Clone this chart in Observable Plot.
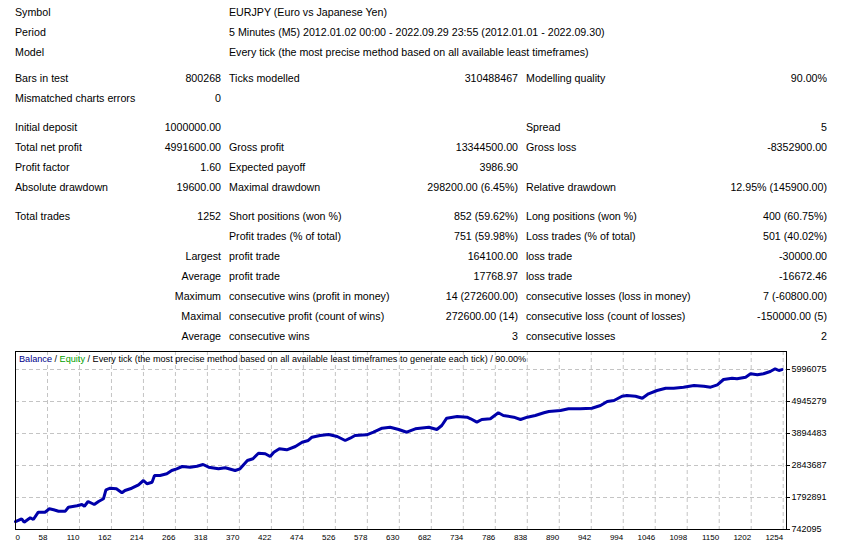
<!DOCTYPE html>
<html>
<head>
<meta charset="utf-8">
<script src="https://cdn.jsdelivr.net/npm/d3@7"></script>
<script src="https://cdn.jsdelivr.net/npm/@observablehq/plot@0.6"></script>
<style>
  html, body { margin: 0; padding: 0; background: #fff; }
  body { width: 842px; height: 547px; position: relative; overflow: hidden; font-family: "Liberation Sans", Arial, sans-serif; color: #000; }
  #report { position: absolute; left: 15px; top: 1.5px; font-size: 8pt; }
  .row { display: grid; grid-template-columns: 120px 86px 150px 147px 158px 151px; height: 20px; line-height: 20px; white-space: nowrap; }
  .row > div { overflow: visible; }
  .r { text-align: right; }
  .l { text-align: left; }
  .p { padding-left: 8px; }
  .span { grid-column: 3 / 7; padding-left: 8px; }
  #chart { position: absolute; left: 0; top: 345px; }
  #caption { position: absolute; left: 19px; top: 353.5px; font-size: 9.15px; white-space: nowrap; font-family: "Liberation Sans", Arial, sans-serif; }
</style>
</head>
<body>
<div id="report"></div>
<div id="chart"></div>
<div id="caption"></div>
<script>
// ---- Report table text ----
const headerRows = [
  ["Symbol", "EURJPY (Euro vs Japanese Yen)"],
  ["Period", "5 Minutes (M5) 2012.01.02 00:00 - 2022.09.29 23:55 (2012.01.01 - 2022.09.30)"],
  ["Model", "Every tick (the most precise method based on all available least timeframes)"]
];
const testRows = [
  ["Bars in test", "800268", "Ticks modelled", "310488467", "Modelling quality", "90.00%"],
  ["Mismatched charts errors", "0", "", "", "", ""]
];
const resultRows = [
  ["Initial deposit", "1000000.00", "", "", "Spread", "5"],
  ["Total net profit", "4991600.00", "Gross profit", "13344500.00", "Gross loss", "-8352900.00"],
  ["Profit factor", "1.60", "Expected payoff", "3986.90", "", ""],
  ["Absolute drawdown", "19600.00", "Maximal drawdown", "298200.00 (6.45%)", "Relative drawdown", "12.95% (145900.00)"]
];
const tradeRows = [
  ["Total trades", "1252", "Short positions (won %)", "852 (59.62%)", "Long positions (won %)", "400 (60.75%)"],
  ["", "", "Profit trades (% of total)", "751 (59.98%)", "Loss trades (% of total)", "501 (40.02%)"],
  ["", "Largest", "profit trade", "164100.00", "loss trade", "-30000.00"],
  ["", "Average", "profit trade", "17768.97", "loss trade", "-16672.46"],
  ["", "Maximum", "consecutive wins (profit in money)", "14 (272600.00)", "consecutive losses (loss in money)", "7 (-60800.00)"],
  ["", "Maximal", "consecutive profit (count of wins)", "272600.00 (14)", "consecutive loss (count of losses)", "-150000.00 (5)"],
  ["", "Average", "consecutive wins", "3", "consecutive losses", "2"]
];

// ---- Chart data (trade number, balance) ----
const trades = [0,16,20,30,35,43,54,61,68,76,87,92,106,114,118,124,134,141,149,153,160,170,179,184,195,206,214,220,228,232,241,252,260,268,277,290,301,311,320,336,347,363,371,383,392,401,412,420,426,435,447,461,472,482,488,501,515,529,542,550,558,577,588,602,615,629,642,656,678,691,699,707,724,740,746,756,764,778,791,799,816,827,838,851,865,873,892,905,924,943,957,968,979,992,1000,1014,1025,1035,1049,1063,1076,1092,1109,1125,1136,1147,1157,1171,1179,1193,1201,1212,1222,1233,1241,1247,1252];
const balance = [1000000,1093000,982000,1126000,1070000,1310000,1310000,1422000,1389000,1343000,1343000,1474000,1520000,1563000,1507000,1662000,1563000,1662000,1750000,2046000,2098000,2079000,1947000,2023000,2098000,2210000,2351000,2243000,2295000,2515000,2515000,2571000,2680000,2735000,2811000,2788000,2821000,2877000,2788000,2735000,2768000,2680000,2735000,3008000,3064000,3248000,3228000,3139000,3280000,3392000,3359000,3468000,3609000,3665000,3773000,3829000,3862000,3796000,3665000,3740000,3829000,3852000,3937000,4069000,4101000,4026000,3937000,4049000,4101000,4026000,4157000,4397000,4453000,4430000,4377000,4266000,4354000,4377000,4574000,4486000,4430000,4354000,4430000,4486000,4574000,4617000,4650000,4706000,4706000,4725000,4814000,4945000,4978000,5119000,5142000,5119000,5054000,5198000,5306000,5382000,5382000,5415000,5471000,5448000,5415000,5494000,5668000,5710000,5691000,5743000,5855000,5822000,5855000,5930000,6019000,5963000,5991600];

const xTicks = [0,58,110,162,214,266,318,370,422,474,526,578,630,682,734,786,838,890,942,994,1046,1098,1150,1202,1254];
const yTicks = [742095,1792891,2843687,3894483,4945279,5996075];
const yTop = 6587148;
const xDomain = [6, 1259.4];

const captionParts = [
  ["Balance", "#00008b"],
  [" / ", "#000"],
  ["Equity", "#00a000"],
  [" / Every tick (the most precise method based on all available least timeframes to generate each tick) / 90.00%", "#000"]
];

// ---- Build report ----
const report = document.getElementById("report");
function addRow(cells, cls) {
  const row = document.createElement("div");
  row.className = "row";
  cells.forEach((c, i) => {
    const d = document.createElement("div");
    d.textContent = c;
    d.className = cls[i];
    row.appendChild(d);
  });
  report.appendChild(row);
}
function spacer(h) {
  const s = document.createElement("div");
  s.style.height = h + "px";
  report.appendChild(s);
}
const sixCls = ["l", "r", "l p", "r", "l p", "r"];
headerRows.forEach(r => addRow([r[0], "", r[1]], ["l", "r", "span"]));
spacer(6.5);
testRows.forEach(r => addRow(r, sixCls));
spacer(8.5);
resultRows.forEach(r => addRow(r, sixCls));
spacer(9.5);
tradeRows.forEach(r => addRow(r, sixCls));

// ---- Chart ----
const data = trades.map((t, i) => ({t, v: balance[i]}));
const gridStyle = {stroke: "#c4c4c4", strokeOpacity: 1, strokeDasharray: "4,3"};
const chart = Plot.plot({
  width: 842,
  height: 202,
  marginLeft: 15,
  marginRight: 56,
  marginTop: 6,
  marginBottom: 18,
  style: {fontFamily: "Liberation Sans, Arial, sans-serif", background: "#fff", color: "#000", overflow: "visible"},
  x: {domain: xDomain, clamp: true},
  y: {domain: [yTicks[0], yTop]},
  marks: [
    Plot.gridX(xTicks.slice(1), gridStyle),
    Plot.gridY(yTicks.slice(1), gridStyle),
    Plot.line(data, {x: "t", y: "v", stroke: "#0000aa", strokeWidth: 3, strokeLinejoin: "miter"}),
    Plot.frame({stroke: "#000"}),
    Plot.axisY(yTicks, {anchor: "right", tickSize: 3, tickPadding: 2, fontSize: 9, label: null, tickFormat: d => String(d)}),
    Plot.axisX([xTicks[0]], {tickSize: 0, tickPadding: 5, fontSize: 8, label: null, textAnchor: "start", tickFormat: d => String(d)}),
    Plot.axisX(xTicks.slice(1), {tickSize: 0, tickPadding: 5, fontSize: 8, label: null, textAnchor: "end", tickFormat: d => String(d)})
  ]
});
document.getElementById("chart").appendChild(chart);

const cap = document.getElementById("caption");
captionParts.forEach(([txt, col]) => {
  const s = document.createElement("span");
  s.textContent = txt;
  s.style.color = col;
  cap.appendChild(s);
});
</script>
</body>
</html>
